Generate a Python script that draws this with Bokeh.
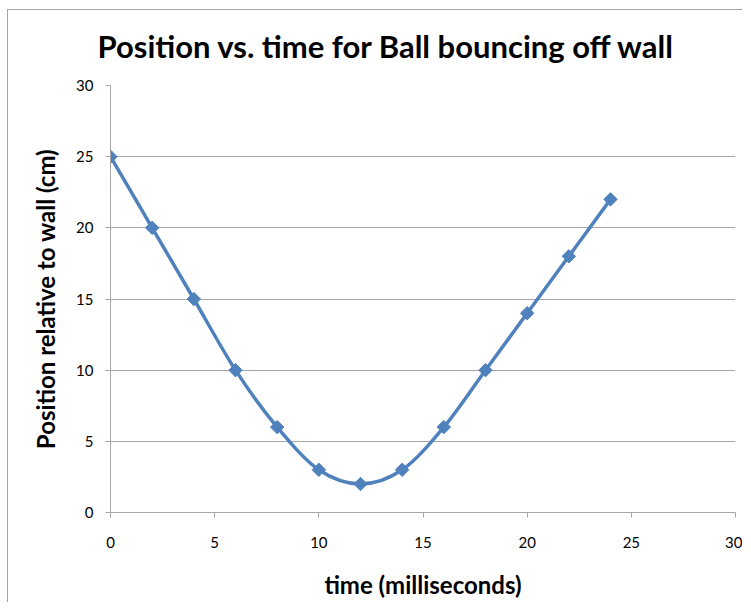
import numpy as np
from bokeh.plotting import figure
from bokeh.models import Range1d, FixedTicker
from bokeh.embed import file_html
from bokeh.resources import INLINE

# ---- data ----
time_ms = [0, 2, 4, 6, 8, 10, 12, 14, 16, 18, 20, 22, 24]
position_cm = [25, 20, 15, 10, 6, 3, 2, 3, 6, 10, 14, 18, 22]
x_ticks = [0, 5, 10, 15, 20, 25, 30]
y_ticks = [0, 5, 10, 15, 20, 25, 30]

title_text = "Position vs. time for Ball bouncing off wall"
x_label = "time (milliseconds)"
y_label = "Position relative to wall (cm)"

SERIES = "#4F81BD"
GRID = "#a6a6a6"
FONT = "Lato"

p = figure(width=742, height=602, output_backend="svg", toolbar_location=None,
           x_range=Range1d(0, 30), y_range=Range1d(0, 30),
           min_border_left=110, min_border_right=7,
           min_border_top=85, min_border_bottom=90,
           title=title_text)
# outer chart-area border (left and top edges visible, like the reference)
p.styles = {
    "background-color": "white",
    "background-image": "linear-gradient(#a6a6a6, #a6a6a6), linear-gradient(#a6a6a6, #a6a6a6)",
    "background-size": "1px calc(100% - 9px), calc(100% - 7px) 1px",
    "background-position": "7px 9px, 7px 9px",
    "background-repeat": "no-repeat",
}
p.outline_line_color = None
p.background_fill_color = None
p.border_fill_color = None

p.title.align = "left"
p.title.offset = -13
p.title.text_font = FONT
p.title.text_font_style = "bold"
p.title.text_font_size = "31px"
p.title.text_color = "black"
p.title.standoff = 42

# axes
for ax in (p.xaxis[0], p.yaxis[0]):
    ax.axis_line_color = GRID
    ax.major_tick_line_color = GRID
    ax.major_tick_out = 5
    ax.major_tick_in = 0
    ax.minor_tick_line_color = None
    ax.major_label_text_font = FONT
    ax.major_label_text_font_size = "15px"
    ax.major_label_text_color = "black"
    ax.axis_label_text_font = FONT
    ax.axis_label_text_font_style = "bold"
    ax.axis_label_text_font_size = "24px"
    ax.axis_label_text_color = "black"

p.xaxis.ticker = FixedTicker(ticks=x_ticks)
p.yaxis.ticker = FixedTicker(ticks=y_ticks)
p.xaxis.axis_label = x_label
p.yaxis.axis_label = y_label
p.xaxis.major_label_standoff = 19
p.yaxis.major_label_standoff = 12
p.xaxis.axis_label_standoff = 19
p.yaxis.axis_label_standoff = 13

p.xgrid.grid_line_color = None
p.ygrid.grid_line_color = GRID
p.ygrid.ticker = FixedTicker(ticks=y_ticks)

# smoothed line (Catmull-Rom style Bezier segments through the data)
x = np.array(time_ms, dtype=float)
y = np.array(position_cm, dtype=float)
xp = np.concatenate([[x[0]], x, [x[-1]]])
yp = np.concatenate([[y[0]], y, [y[-1]]])
n = len(x) - 1
x0 = x[:-1]; y0 = y[:-1]
x1 = x[1:]; y1 = y[1:]
cx0 = x0 + (xp[2:n + 2] - xp[0:n]) / 6.0
cy0 = y0 + (yp[2:n + 2] - yp[0:n]) / 6.0
cx1 = x1 - (xp[3:n + 3] - xp[1:n + 1]) / 6.0
cy1 = y1 - (yp[3:n + 3] - yp[1:n + 1]) / 6.0
p.bezier(x0=x0, y0=y0, x1=x1, y1=y1, cx0=cx0, cy0=cy0, cx1=cx1, cy1=cy1,
         line_color=SERIES, line_width=3.5, line_cap="round")

p.scatter(time_ms, position_cm, marker="square", angle=np.pi / 4, size=9.5,
          fill_color=SERIES, line_color=SERIES)

open("out.html", "w").write(file_html(p, INLINE))
